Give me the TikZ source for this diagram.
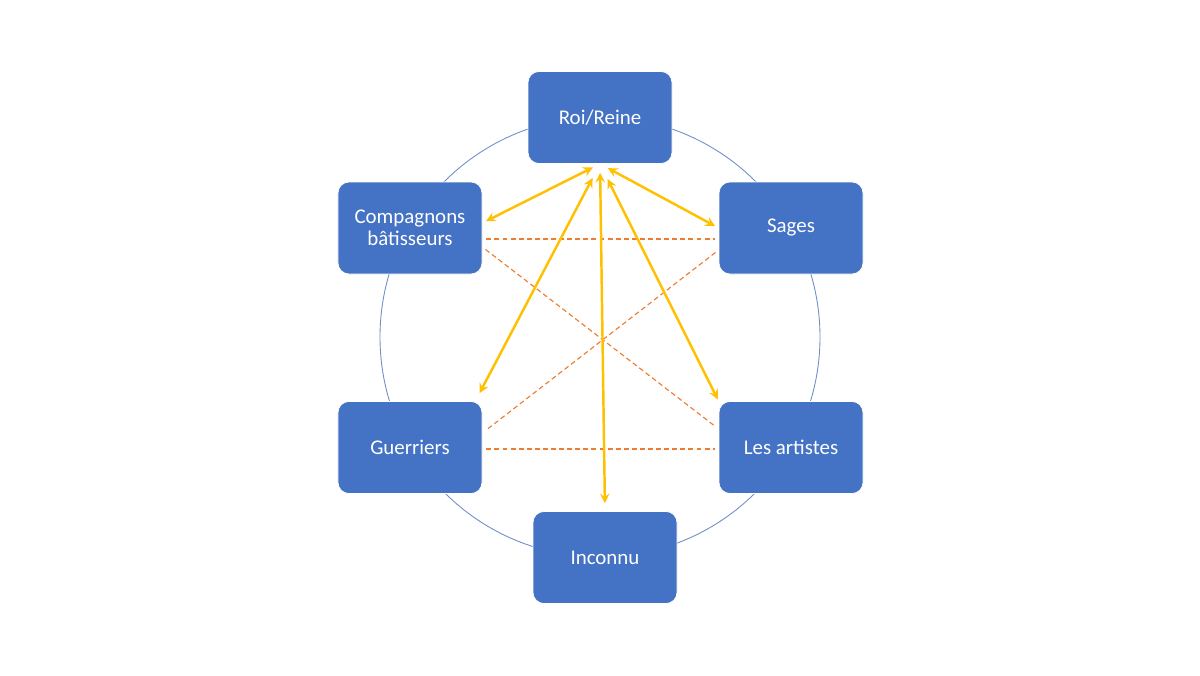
\documentclass[tikz,border=0pt]{standalone}
\usepackage{fontspec}
\setmainfont{Carlito}
\definecolor{boxblue}{HTML}{4472C4}
\definecolor{ringblue}{HTML}{6F8FC6}
\definecolor{linkyellow}{HTML}{FFC000}
\definecolor{tieorange}{HTML}{ED7D31}
\begin{document}
\begin{tikzpicture}[>=stealth,
	role/.style={draw=white,line width=0.4pt,fill=boxblue,rounded corners=0.22cm,minimum width=2.88cm,minimum height=1.84cm,text=white,align=center,inner sep=0pt,font=\fontsize{11.9}{12.4}\selectfont},
	link/.style={<->,draw=linkyellow,line width=1.4pt},
	tie/.style={draw=tieorange,line width=0.65pt,dash pattern=on 2.8pt off 1.8pt,shorten <=0.08cm,shorten >=0.08cm}]
	\useasboundingbox (-12,-6.76) rectangle (12,6.74);
	\draw[ringblue,line width=0.5pt](0,0)circle(4.4);
	\node[role](roi) at (0,4.39){Roi/Reine};
	\node[role](comp) at (-3.8,2.18){Compagnons\\bâtisseurs};
	\node[role](sages) at (3.82,2.18){Sages};
	\node[role](guer) at (-3.8,-2.21){Guerriers};
	\node[role](art) at (3.82,-2.21){Les artistes};
	\node[role](inc) at (0.1,-4.41){Inconnu};
	\draw[tie]([yshift=-0.22cm]comp.east)--([yshift=-0.22cm]sages.west);
	\draw[tie]([yshift=-0.38cm]comp.east)--([yshift=0.37cm]art.west);
	\draw[tie]([yshift=-0.44cm]sages.west)--([yshift=0.29cm]guer.east);
	\draw[tie]([yshift=-0.03cm]guer.east)--([yshift=-0.03cm]art.west);
	\draw[link,shorten <=0.16cm,shorten >=0.08cm](roi.south)--([yshift=0.1cm]comp.east);
	\draw[link,shorten <=0.18cm,shorten >=0.08cm](roi.south)--(sages.west);
	\draw[link,shorten <=0.18cm,shorten >=0.16cm](roi.south)--(inc.north);
	\draw[link,shorten <=0.32cm,shorten >=0.18cm](roi.south)--([xshift=-0.14cm]guer.north east);
	\draw[link,shorten <=0.34cm,shorten >=0.04cm](roi.south)--(art.north west);
\end{tikzpicture}
\end{document}
